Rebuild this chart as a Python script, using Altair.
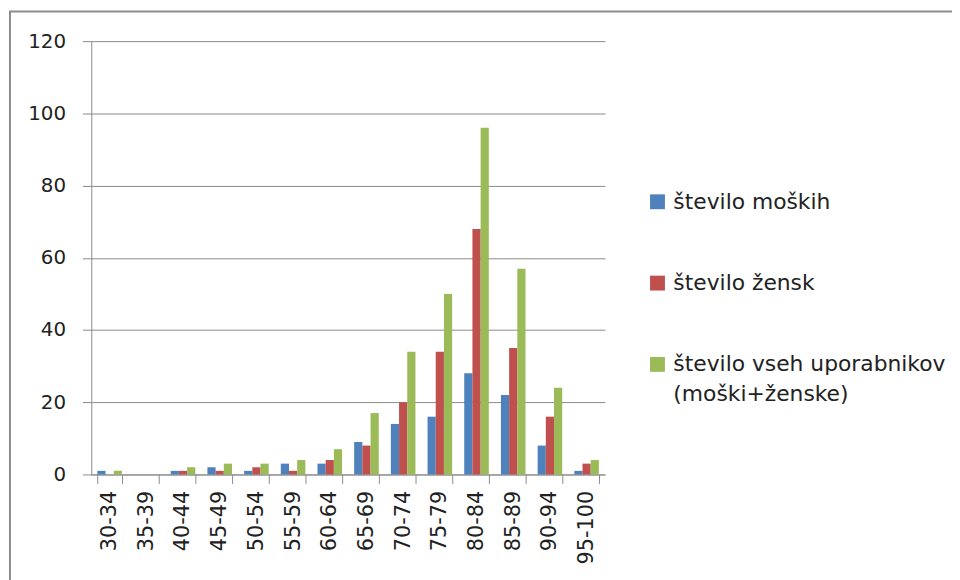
import altair as alt
import pandas as pd

categories = ["30-34", "35-39", "40-44", "45-49", "50-54", "55-59", "60-64",
              "65-69", "70-74", "75-79", "80-84", "85-89", "90-94", "95-100"]
moski = [1, 0, 1, 2, 1, 3, 3, 9, 14, 16, 28, 22, 8, 1]
zenske = [0, 0, 1, 1, 2, 1, 4, 8, 20, 34, 68, 35, 16, 3]
vsi = [1, 0, 2, 3, 3, 4, 7, 17, 34, 50, 96, 57, 24, 4]
series = ["število moških", "število žensk", "število vseh uporabnikov (moški+ženske)"]
colors = ["#4F81BD", "#C0504D", "#9BBB59"]
y_ticks = [0, 20, 40, 60, 80, 100, 120]

rows = []
for s, vals in zip(series, [moski, zenske, vsi]):
    for c, v in zip(categories, vals):
        rows.append({"kategorija": c, "serija": s, "vrednost": v})
df = pd.DataFrame(rows)

FONT = "DejaVu Sans"
GRID = "#8a8a8a"

bars = alt.Chart(df).mark_bar().encode(
    x=alt.X("kategorija:N", sort=categories, title=None,
            scale=alt.Scale(paddingInner=0.33, paddingOuter=0.165),
            axis=alt.Axis(labelAngle=270, labelAlign="right", labelBaseline="middle",
                          tickBand="extent", tickSize=9, labelPadding=7,
                          domainColor=GRID, tickColor=GRID, labelFontSize=21,
                          labelFont=FONT, labelColor="#222222", grid=False)),
    xOffset=alt.XOffset("serija:N", sort=series,
                        scale=alt.Scale(paddingInner=0, paddingOuter=0)),
    y=alt.Y("vrednost:Q", title=None,
            scale=alt.Scale(domain=[0, 120], nice=False),
            axis=alt.Axis(values=y_ticks, tickSize=9, labelPadding=17,
                          domainColor=GRID, tickColor=GRID, gridColor=GRID,
                          labelFontSize=20, labelFont=FONT, labelColor="#222222")),
    color=alt.Color("serija:N", sort=series,
                    scale=alt.Scale(domain=series, range=colors),
                    legend=alt.Legend(title=None, orient="none", legendX=560, legendY=151,
                                      symbolType="square", symbolSize=225,
                                      symbolStrokeWidth=0, labelFont=FONT,
                                      labelFontSize=22, labelColor="#222222",
                                      labelOffset=5, rowPadding=60, padding=0,
                                      labelLimit=400,
                                      labelExpr="datum.label == 'število vseh uporabnikov (moški+ženske)' ? ['število vseh uporabnikov', '(moški+ženske)'] : datum.label")),
)

frame = alt.Chart(pd.DataFrame({"a": [0]})).mark_rect(
    fill="transparent", stroke="#8c8c8c", strokeWidth=2
).encode(
    x=alt.value(-82), x2=alt.value(1000), y=alt.value(-30), y2=alt.value(700)
)

chart = alt.layer(frame, bars).properties(
    width=518, height=437,
    autosize=alt.AutoSizeParams(type="none"),
    padding={"left": 84, "top": 31, "right": 350, "bottom": 104},
).configure(
    view={"stroke": "transparent"},
    style={"guide-label": {"lineHeight": 30}},
)

chart.save("out.html", embed_options={"renderer": "svg", "actions": False})
